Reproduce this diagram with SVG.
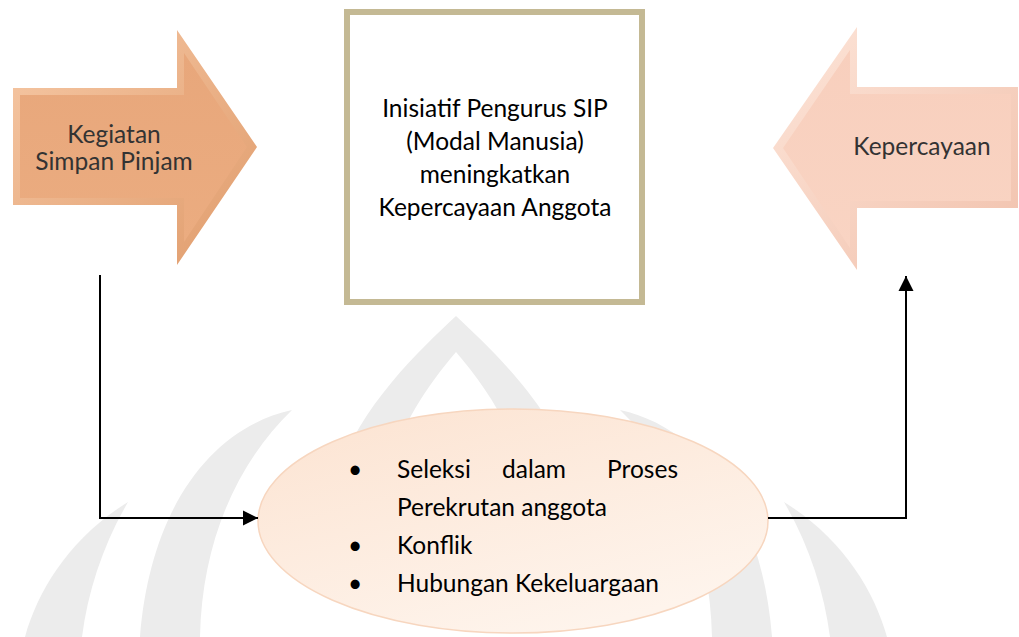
<svg xmlns="http://www.w3.org/2000/svg" width="1019" height="637" viewBox="0 0 1019 637">
<defs>
  <linearGradient id="gL" x1="0" y1="0" x2="1" y2="1">
    <stop offset="0" stop-color="#f6c8a5"/>
    <stop offset="1" stop-color="#e09c6c"/>
  </linearGradient>
  <linearGradient id="gLi" x1="0" y1="0" x2="0" y2="1">
    <stop offset="0" stop-color="#e8a77b"/>
    <stop offset="1" stop-color="#ebac80"/>
  </linearGradient>
  <linearGradient id="gR" x1="0" y1="0" x2="1" y2="1">
    <stop offset="0" stop-color="#fde5d9"/>
    <stop offset="1" stop-color="#f1c1ac"/>
  </linearGradient>
  <linearGradient id="gRi" x1="0" y1="0" x2="0" y2="1">
    <stop offset="0" stop-color="#f8cfbd"/>
    <stop offset="1" stop-color="#f9d4c3"/>
  </linearGradient>
  <linearGradient id="gE" x1="0" y1="0" x2="0.6" y2="1">
    <stop offset="0" stop-color="#fce3d1"/>
    <stop offset="1" stop-color="#fef4ec"/>
  </linearGradient>
  <marker id="ah" viewBox="0 0 10 10" refX="10" refY="5" markerUnits="userSpaceOnUse" markerWidth="15" markerHeight="16" orient="auto">
    <path d="M0,0 L10,5 L0,10 Z" fill="#000"/>
  </marker>
</defs>
<style>
  .lbl { font-family: Lato, "Open Sans", "Liberation Sans", sans-serif; font-size: 24.5px; }
  .dim { fill: #333333; }
  .blk { fill: #000000; }
  .wm { fill: #ececec; }
  .conn { fill: none; stroke: #000; stroke-width: 2; }
</style>
<rect width="1019" height="637" fill="#ffffff"/>

<g id="watermark">
  <path class="wm" d="M456 316 C420 350 360 405 335 480 L385 480 C400 425 428 385 456 352 C484 385 512 425 527 480 L577 480 C552 405 492 350 456 316 Z"/>
  <path class="wm" d="M292 410 C210 428 150 510 140 637 L200 637 C202 540 238 462 292 410 Z"/>
  <path class="wm" d="M128 502 C70 538 38 590 25 637 L82 637 C88 590 104 543 128 502 Z"/>
  <path class="wm" d="M620 410 C702 428 762 510 772 637 L712 637 C710 540 674 462 620 410 Z"/>
  <path class="wm" d="M784 502 C842 538 874 590 887 637 L830 637 C824 590 808 543 784 502 Z"/>
</g>

<g id="node-kegiatan">
  <polygon points="13,88 177,88 177,30 257,147 177,265 177,205 13,205" fill="url(#gL)"/>
  <polygon points="20,95 184,95 184,53 247,147 184,242 184,198 20,198" fill="url(#gLi)"/>
  <text class="lbl dim" text-anchor="middle" x="114" y="143">Kegiatan</text>
  <text class="lbl dim" text-anchor="middle" x="114" y="170">Simpan Pinjam</text>
</g>

<g id="node-inisiatif">
  <rect x="347" y="12" width="295" height="290" fill="#ffffff" stroke="#c4b994" stroke-width="6"/>
  <text class="lbl blk" text-anchor="middle" x="495" y="117">Inisiatif Pengurus SIP</text>
  <text class="lbl blk" text-anchor="middle" x="495" y="150">(Modal Manusia)</text>
  <text class="lbl blk" text-anchor="middle" x="495" y="183">meningkatkan</text>
  <text class="lbl blk" text-anchor="middle" x="495" y="216">Kepercayaan Anggota</text>
</g>

<g id="node-kepercayaan">
  <polygon points="773,148 857,27 857,87 1018,87 1018,208 857,208 857,270" fill="url(#gR)"/>
  <polygon points="783,148 850,50 850,94 1011,94 1011,201 850,201 850,248" fill="url(#gRi)"/>
  <text class="lbl dim" text-anchor="middle" x="922" y="155">Kepercayaan</text>
</g>

<g id="node-faktor">
  <ellipse cx="513" cy="521" rx="255" ry="112" fill="url(#gE)" stroke="#f7d6bf" stroke-width="1.5"/>
  <text class="lbl blk" x="355" y="478" text-anchor="middle" font-size="28">•</text>
  <text class="lbl blk" x="397" y="478">Seleksi</text>
  <text class="lbl blk" x="502" y="478">dalam</text>
  <text class="lbl blk" x="678" y="478" text-anchor="end">Proses</text>
  <text class="lbl blk" x="397" y="516">Perekrutan anggota</text>
  <text class="lbl blk" x="355" y="554" text-anchor="middle" font-size="28">•</text>
  <text class="lbl blk" x="397" y="554">Konflik</text>
  <text class="lbl blk" x="355" y="592" text-anchor="middle" font-size="28">•</text>
  <text class="lbl blk" x="397" y="592">Hubungan Kekeluargaan</text>
</g>

<g id="connectors">
  <path class="conn" d="M100,275 V518 H258" marker-end="url(#ah)"/>
  <path class="conn" d="M768,518 H906 V276" marker-end="url(#ah)"/>
</g>
</svg>
